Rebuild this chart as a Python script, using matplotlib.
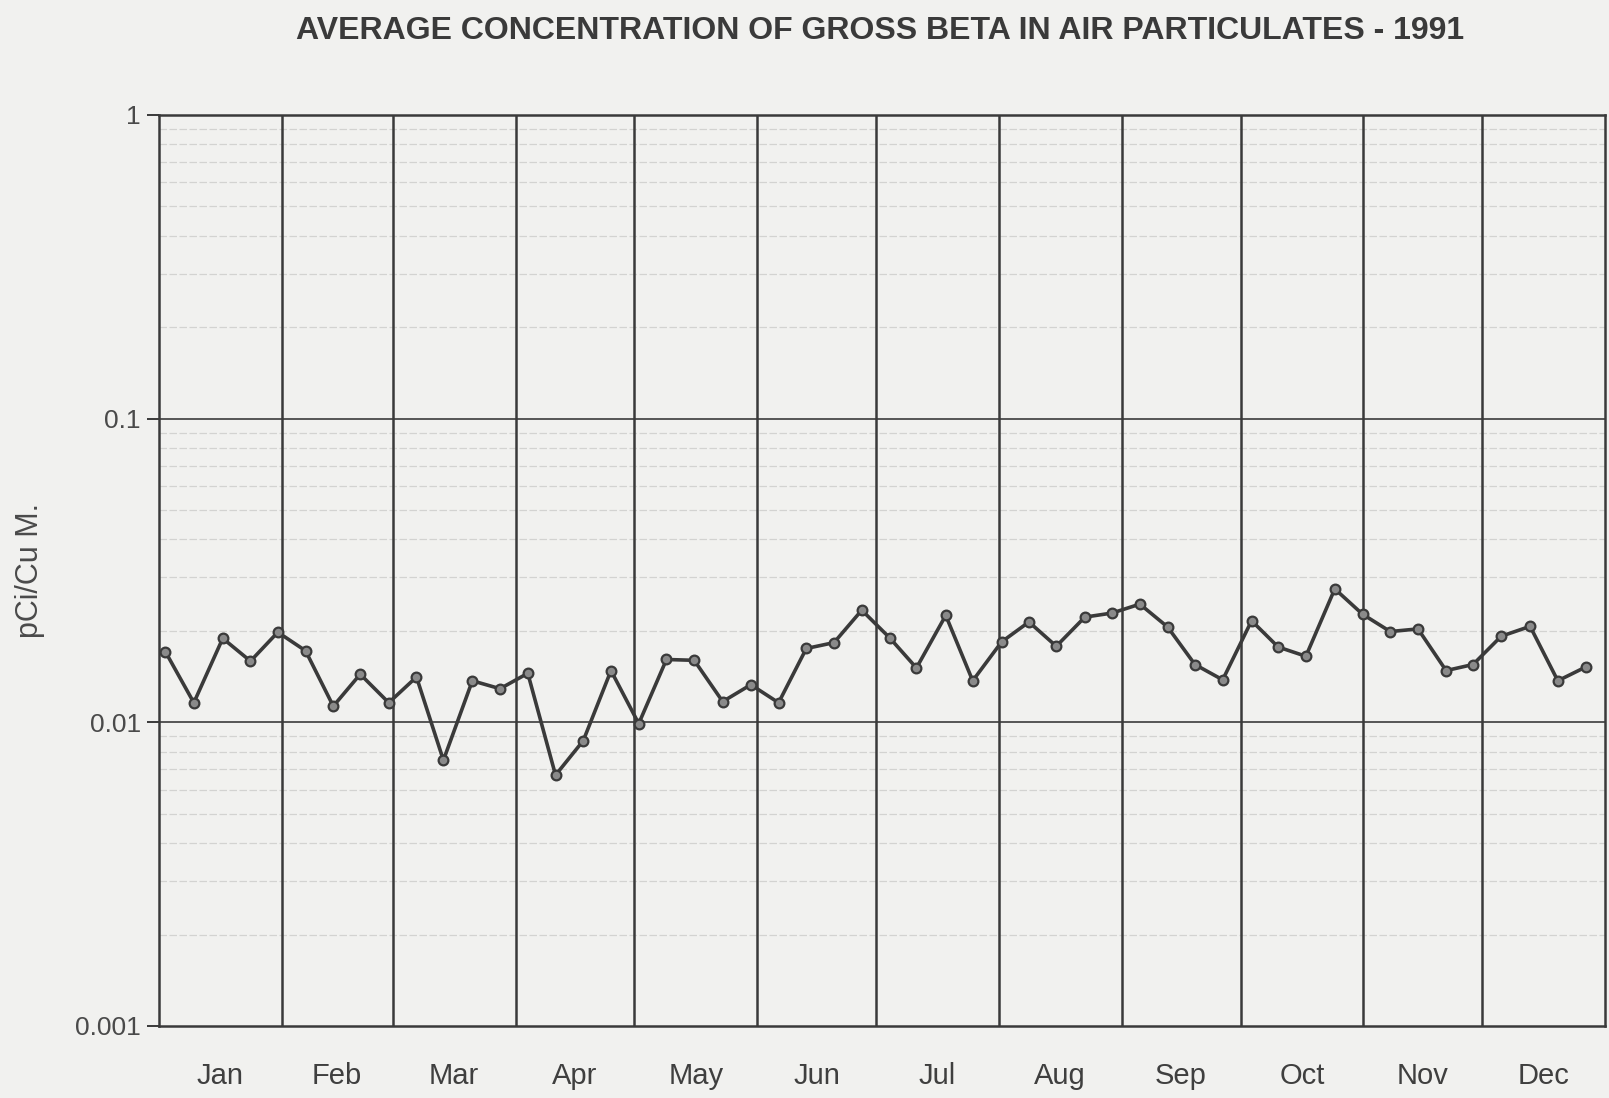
import matplotlib

matplotlib.use("Agg")
import matplotlib.pyplot as plt
from matplotlib.ticker import FixedLocator, NullFormatter

# Weekly gross beta results, 1991 (sample day of year, pCi/cu m)
sample_day = [
    1.6, 8.8, 16.1, 23.1, 30.0, 37.0, 44.0, 50.8, 58.0, 65.0, 71.8, 79.1, 86.1,
    93.1, 100.1, 107.1, 114.1, 121.1, 128.1, 135.1, 142.3, 149.4, 156.4, 163.4,
    170.4, 177.4, 184.4, 191.2, 198.6, 205.4, 212.7, 219.6, 226.5, 233.7, 240.6,
    247.6, 254.6, 261.5, 268.5, 275.8, 282.5, 289.5, 296.8, 303.8, 310.8, 317.8,
    324.9, 331.7, 338.8, 346.1, 353.1, 360.1,
]
gross_beta = [
    0.0171, 0.0116, 0.0189, 0.0159, 0.0198, 0.0172, 0.0113, 0.0144, 0.0116,
    0.0141, 0.0075, 0.0137, 0.0129, 0.0145, 0.0067, 0.0087, 0.0148, 0.0099,
    0.0161, 0.0160, 0.0117, 0.0133, 0.0116, 0.0175, 0.0183, 0.0234, 0.0190,
    0.0151, 0.0225, 0.0137, 0.0184, 0.0214, 0.0178, 0.0222, 0.0229, 0.0245,
    0.0206, 0.0155, 0.0138, 0.0216, 0.0177, 0.0165, 0.0275, 0.0227, 0.0199,
    0.0203, 0.0148, 0.0155, 0.0192, 0.0207, 0.0137, 0.0152,
]

month_starts = [0, 31, 59, 90, 120, 151, 181, 212, 243, 273, 304, 334, 365]
month_names = ["Jan", "Feb", "Mar", "Apr", "May", "Jun",
               "Jul", "Aug", "Sep", "Oct", "Nov", "Dec"]
decade_ticks = [1, 0.1, 0.01, 0.001]
decade_labels = ["1", "0.1", "0.01", "0.001"]

paper = "#f1f1ef"
ink = "#3a3a3a"

plt.rcParams["font.family"] = ["Liberation Sans", "DejaVu Sans"]

fig = plt.figure(figsize=(16.09, 10.98), dpi=100, facecolor=paper)
ax = fig.add_axes([0.0988, 0.0656, 0.8987, 0.8297], facecolor=paper)

ax.set_yscale("log")
ax.set_ylim(0.001, 1)
ax.set_xlim(month_starts[0], month_starts[-1])

# faint minor rules between decades
minor = [m * 10.0 ** e for e in (-3, -2, -1) for m in range(2, 10)]
for v in minor:
    ax.axhline(v, color="#d3d3d1", lw=0.9, ls=(0, (6, 2)), zorder=1)
for v in decade_ticks[1:-1]:
    ax.axhline(v, color="#555555", lw=1.4, zorder=2)
for d in month_starts[1:-1]:
    ax.axvline(d, color=ink, lw=1.8, zorder=2)

ax.plot(sample_day, gross_beta, color=ink, lw=2.6, marker="o", ms=7,
        mfc="#8a8a8a", mec=ink, mew=1.6, zorder=4)

ax.yaxis.set_major_locator(FixedLocator(decade_ticks))
ax.set_yticklabels(decade_labels, fontsize=19, color="#4a4a4a")
ax.yaxis.set_minor_formatter(NullFormatter())
ax.tick_params(axis="y", which="major", direction="out", length=9, width=1.4,
               color=ink, pad=4)
ax.tick_params(axis="y", which="minor", length=0)

centres = [(a + b) / 2 for a, b in zip(month_starts[:-1], month_starts[1:])]
ax.set_xticks(centres)
ax.set_xticklabels(month_names, fontsize=21, color="#3f3f3f")
ax.tick_params(axis="x", length=0, pad=26)

for side in ("left", "right", "top", "bottom"):
    ax.spines[side].set_color(ink)
    ax.spines[side].set_linewidth(1.8)

ax.set_ylabel("pCi/Cu M.", fontsize=22, color="#4a4a4a", labelpad=22)

fig.text(0.547, 0.972, "AVERAGE CONCENTRATION OF GROSS BETA IN AIR PARTICULATES - 1991",
         ha="center", va="center", fontsize=23, fontweight="bold",
         color="#3a3a3a")

fig.savefig("out.png", dpi=100, facecolor=paper)
